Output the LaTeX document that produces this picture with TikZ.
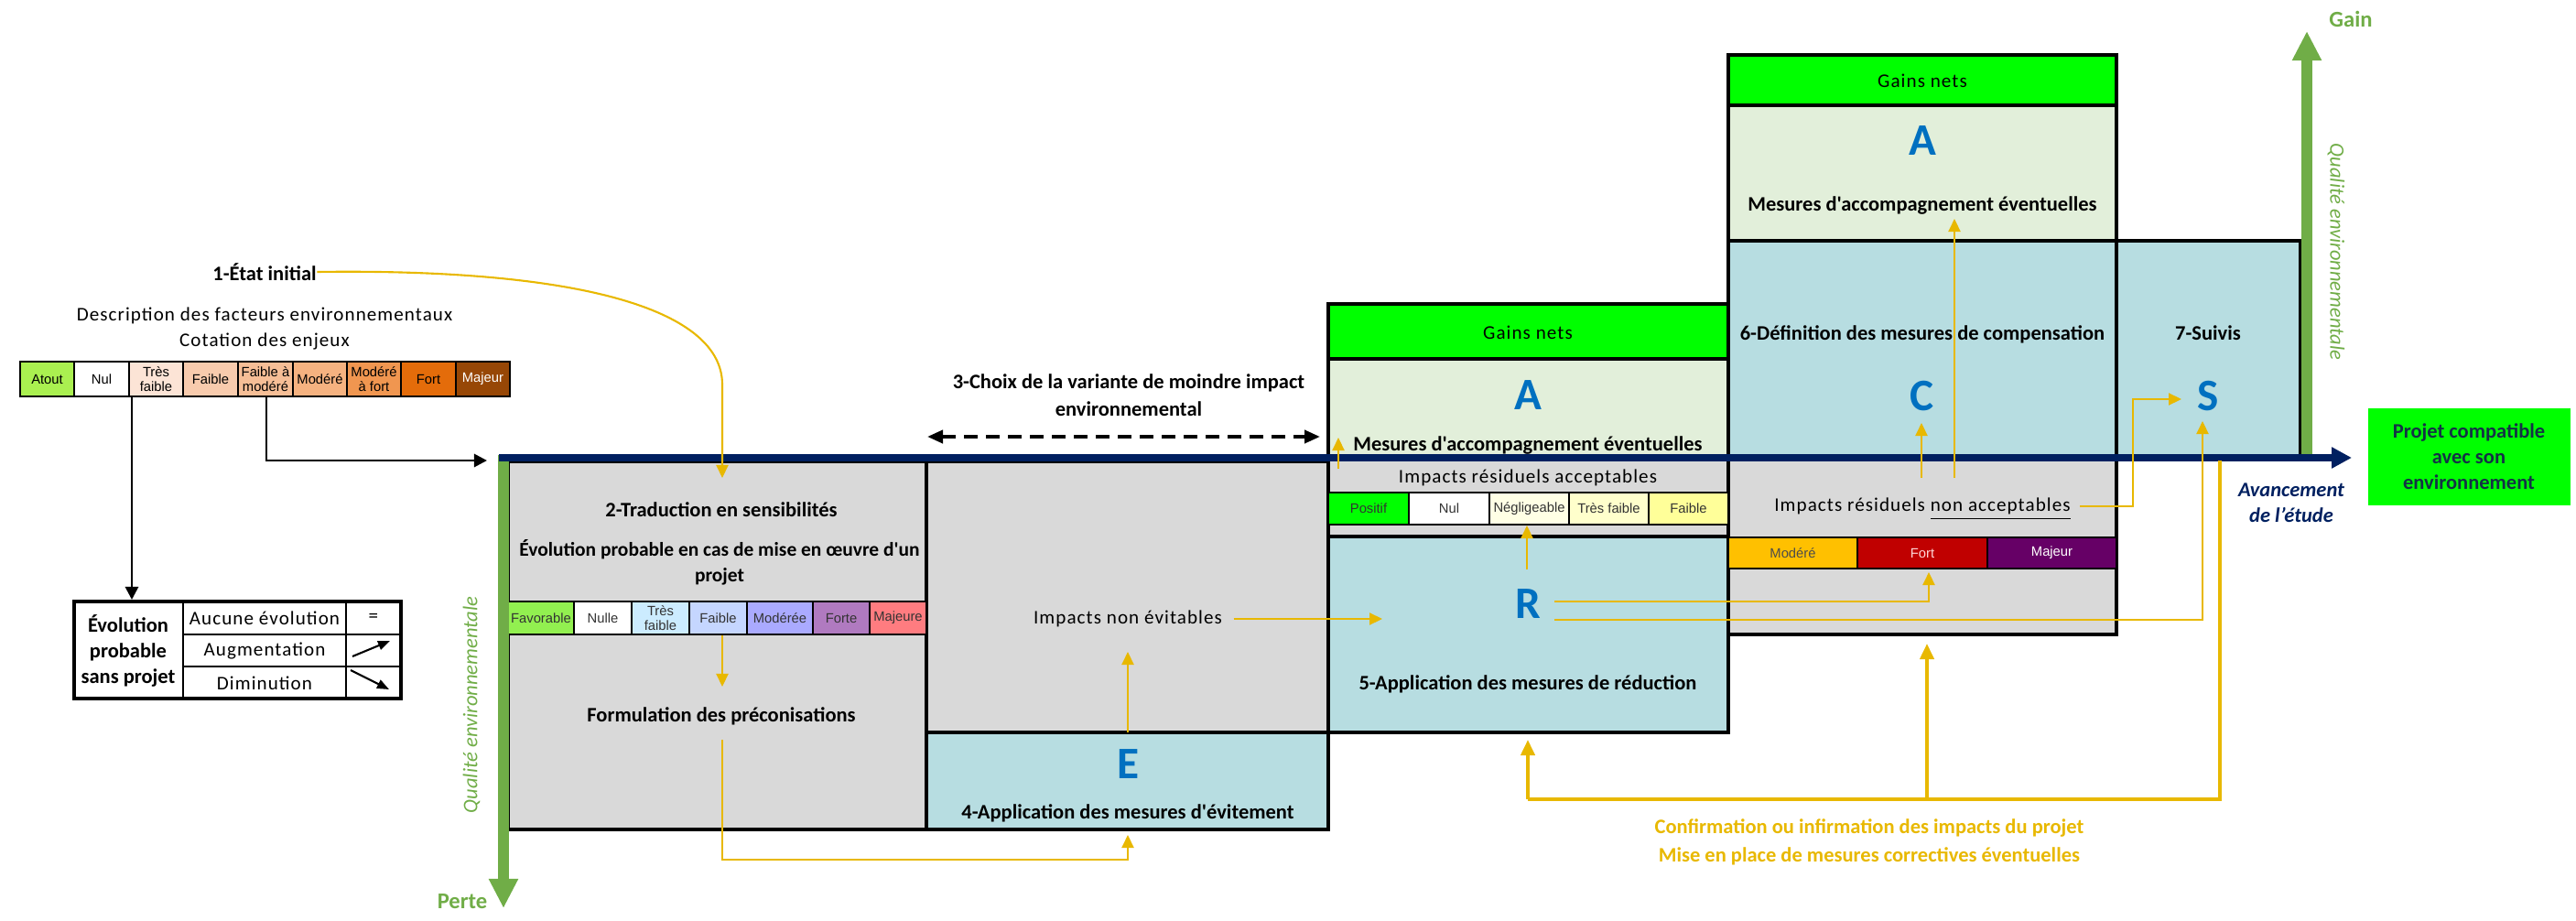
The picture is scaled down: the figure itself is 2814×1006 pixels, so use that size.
\documentclass[tikz,border=0pt]{standalone}
\usepackage{fontspec}
\setmainfont{Carlito}[Ligatures=TeXOff]
\newfontfamily\arialf{Liberation Sans}
\usetikzlibrary{arrows.meta}
\newcommand{\espace}{\addfontfeature{LetterSpace=5}}
\definecolor{gris}{RGB}{217,217,217}
\definecolor{turq}{RGB}{183,221,225}
\definecolor{vertpale}{RGB}{226,239,218}
\definecolor{vertflash}{RGB}{0,255,0}
\definecolor{marine}{RGB}{0,32,96}
\definecolor{vertaxe}{RGB}{112,173,71}
\definecolor{jaune}{RGB}{232,184,0}
\definecolor{bleulettre}{RGB}{0,112,192}
\definecolor{texteprojet}{RGB}{20,50,70}
\definecolor{atout}{RGB}{170,240,80}
\definecolor{tfa}{RGB}{252,228,214}
\definecolor{fai}{RGB}{248,203,173}
\definecolor{fam}{RGB}{246,190,150}
\definecolor{mod}{RGB}{245,178,128}
\definecolor{maf}{RGB}{240,150,80}
\definecolor{fort}{RGB}{228,108,10}
\definecolor{majeur}{RGB}{151,71,6}
\definecolor{favo}{RGB}{146,240,80}
\definecolor{tfb}{RGB}{204,236,255}
\definecolor{faib}{RGB}{197,214,255}
\definecolor{modb}{RGB}{170,170,255}
\definecolor{forb}{RGB}{176,122,192}
\definecolor{majb}{RGB}{255,124,128}
\definecolor{negl}{RGB}{255,255,229}
\definecolor{tfj}{RGB}{255,255,204}
\definecolor{faij}{RGB}{255,255,153}
\definecolor{modo}{RGB}{255,192,0}
\definecolor{forr}{RGB}{192,0,0}
\definecolor{majv}{RGB}{102,0,102}

\begin{document}
\begin{tikzpicture}[x=0.01cm,y=-0.01cm,
    boite/.style={draw=black,line width=1pt},
    ttl/.style={font=\fontsize{6.4}{8}\selectfont\bfseries,align=center,inner sep=0pt},
    txt/.style={font=\fontsize{6}{8}\selectfont\espace,align=center,inner sep=0pt},
    lettre/.style={font=\fontsize{14}{14}\selectfont\bfseries,text=bleulettre,inner sep=0pt},
    cellule/.style={draw=black,line width=0.7pt},
    etiq/.style={font=\arialf\fontsize{4.2}{4.7}\selectfont,align=center,inner sep=0pt},
    vert/.style={font=\fontsize{6.4}{8}\selectfont\itshape,text=vertaxe,inner sep=0pt},
    fj/.style={draw=jaune,line width=0.6pt,-{Triangle[length=0.14cm,width=0.13cm]}},
    fjg/.style={draw=jaune,line width=1.1pt,-{Triangle[length=0.17cm,width=0.15cm]}},
    fn/.style={draw=black,line width=0.8pt,-{Triangle[length=0.14cm,width=0.14cm]}}]
\useasboundingbox (0,0) rectangle (2814,1006);

% etat initial
\node[ttl] (etat) at (289,297) {1-État initial};
\node[txt] (descr) at (289,359) {Description des facteurs environnementaux\\Cotation des enjeux};
\foreach \xa/\xb/\lab/\col/\tc [count=\i] in {22/81/Atout/atout/black,81/141/Nul/white/black,
    141/200/{Très\\faible}/tfa/black,200/260/Faible/fai/black,260/320/{Faible à\\modéré}/fam/black,
    320/379/Modéré/mod/black,379/438/{Modéré\\à fort}/maf/black,438/498/Fort/fort/black,498/557/Majeur/majeur/white}
  {\draw[cellule,fill=\col] (\xa,395) rectangle (\xb,433);
   \node[etiq,text=\tc] (e\i) at ({(\xa+\xb)/2},414) {\lab};}
\draw[fn] (144,433) -- (144,655);
\draw[fn] (291,433) |- (532,503);

\draw[line width=1pt] (81,657) rectangle (438,763);
\draw[line width=0.8pt] (200,657) -- (200,763) (378,657) -- (378,763)
    (200,693) -- (438,693) (200,728) -- (438,728);
\node[ttl] (sansproj) at (140,711) {Évolution\\probable\\sans projet};
\node[txt] (aucune) at (289,675) {Aucune évolution};
\node[txt] (augm) at (289,711) {Augmentation};
\node[txt] (dimi) at (289,746) {Diminution};
\node[txt] (egal) at (408,675) {=};
\draw[line width=0.6pt,-{Triangle[length=0.13cm,width=0.1cm]}] (385,717) -- (426,700);
\draw[line width=0.6pt,-{Triangle[length=0.13cm,width=0.1cm]}] (383,732) -- (425,753);

% cases
\draw[boite,fill=gris] (555,504) rectangle (1012,906);
\draw[boite,fill=gris] (1012,504) rectangle (1451,800);
\draw[boite,fill=turq] (1012,800) rectangle (1451,906);
\draw[boite,fill=vertflash] (1451,332) rectangle (1888,392);
\draw[boite,fill=vertpale] (1451,392) rectangle (1888,500);
\draw[boite,fill=gris] (1451,500) rectangle (1888,586);
\draw[boite,fill=turq] (1451,586) rectangle (1888,800);
\draw[boite,fill=vertflash] (1888,60) rectangle (2312,115);
\draw[boite,fill=vertpale] (1888,115) rectangle (2312,263);
\draw[boite,fill=turq] (1888,263) rectangle (2312,500);
\draw[boite,fill=gris] (1888,500) rectangle (2312,693);
\draw[boite,fill=turq] (2312,263) rectangle (2513,500);

\foreach \xa/\xb/\lab/\col [count=\i] in {555/627/Favorable/favo,627/690/Nulle/white,
    690/753/{Très\\faible}/tfb,753/816/Faible/faib,816/888/Modérée/modb,888/950/Forte/forb,950/1012/Majeure/majb}
  {\draw[cellule,fill=\col] (\xa,657) rectangle (\xb,693);
   \node[etiq,text=black!80] (s\i) at ({(\xa+\xb)/2},675) {\lab};}
\foreach \xa/\xb/\lab/\col [count=\i] in {1451/1539/Positif/vertflash,1539/1627/Nul/white,
    1627/1714/Négligeable/negl,1714/1801/Très faible/tfj,1801/1888/Faible/faij}
  {\draw[cellule,fill=\col] (\xa,538) rectangle (\xb,573);
   \node[etiq,text=black!80] (r\i) at ({(\xa+\xb)/2},555.5) {\lab};}
\foreach \xa/\xb/\lab/\col/\tc [count=\i] in {1888/2029/Modéré/modo/black!70,
    2029/2171/Fort/forr/white!85!red,2171/2312/Majeur/majv/white}
  {\draw[cellule,fill=\col] (\xa,587) rectangle (\xb,621);
   \node[etiq,text=\tc] (n\i) at ({(\xa+\xb)/2},604) {\lab};}

% axes
\draw[vertaxe,line width=3.3pt,-{Triangle[length=0.32cm,width=0.3cm]}] (550,497) -- (550,992);
\draw[vertaxe,line width=3.6pt,-{Triangle[length=0.32cm,width=0.3cm]}] (2520,500) -- (2520,34);
\draw[marine,line width=2.4pt,-{Triangle[length=0.22cm,width=0.22cm]}] (545,500) -- (2569,500);
\node[ttl,font=\fontsize{7}{8}\selectfont\bfseries,text=vertaxe] (gain) at (2568,21) {Gain};
\node[ttl,font=\fontsize{7}{8}\selectfont\bfseries,text=vertaxe] (perte) at (505,985) {Perte};
\node[vert,rotate=-90] (qualg) at (2552,275) {Qualité environnementale};
\node[vert,rotate=90] (quald) at (515,770) {Qualité environnementale};
\node[ttl,font=\fontsize{6.4}{8}\selectfont\bfseries\itshape,text=marine] (avanc) at (2503,549) {Avancement\\de l’étude};
\fill[vertflash] (2587,446) rectangle (2808,552);
\node[ttl,text=texteprojet] (projet) at (2697,499) {Projet compatible\\avec son\\environnement};

% etape 2
\draw[fj] (etat.east) .. controls (640,293) and (789,340) .. (789,420) -- (789,522);
\node[ttl] (trad) at (788,557) {2-Traduction en sensibilités};
\node[ttl,font=\fontsize{6.1}{8}\selectfont\bfseries] (evolp) at (786,614) {Évolution probable en cas de mise en œuvre d'un\\projet};
\draw[fj] (789,694) -- (789,750);
\node[ttl] (formul) at (788,782) {Formulation des préconisations};
\draw[fj] (789,808) -- (789,939) -| (1232,912);

% etapes 3 et 4
\node[ttl,font=\fontsize{6.4}{8.5}\selectfont\bfseries] (choix) at (1233,432) {3-Choix de la variante de moindre impact\\environnemental};
\draw[line width=1.1pt,dash pattern=on 0.15cm off 0.09cm,
    {Triangle[length=0.17cm,width=0.14cm]}-{Triangle[length=0.17cm,width=0.14cm]}] (1013,477) -- (1442,477);
\node[txt] (nonevit) at (1232,676) {Impacts non évitables};
\draw[fj] (nonevit.east) ++(12,0) -- (1510,676);
\draw[fj] (1232,800) -- (1232,712);
\node[lettre] (E) at (1232,835) {E};
\node[ttl] (evit) at (1232,888) {4-Application des mesures d'évitement};

% etape 5
\node[txt] (gn5) at (1669,363) {Gains nets};
\node[lettre] (A5) at (1669,432) {A};
\node[ttl] (acc5) at (1669,487) {Mesures d'accompagnement éventuelles};
\draw[fj] (1462,512) -- (1462,478);
\node[txt] (accept) at (1669,522) {Impacts résiduels acceptables};
\node[lettre] (R) at (1669,660) {R};
\draw[fj] (1668,622) -- (1668,574);
\node[ttl] (redu) at (1669,747) {5-Application des mesures de réduction};
\draw[fj] (1698,657) -| (2107,625);
\draw[fj] (1698,677) -| (2406,460);

% etapes 6 et 7
\node[txt] (gn6) at (2100,88) {Gains nets};
\node[lettre] (A6) at (2100,154) {A};
\node[ttl] (acc6) at (2100,225) {Mesures d'accompagnement éventuelles};
\node[ttl] (compens) at (2100,365) {6-Définition des mesures de compensation};
\node[lettre] (C) at (2100,433) {C};
\node[txt] (nonacc) at (2100,556) {Impacts résiduels \underline{non acceptables}};
\draw[fj] (2099,522) -- (2099,462);
\draw[fj] (2135,522) -- (2135,239);
\draw[fj] (nonacc.east) ++(10,-3) -| (2330,436) -- (2383,436);
\node[ttl] (suivis) at (2412,364) {7-Suivis};
\node[lettre] (S) at (2412,433) {S};

% retour
\draw[jaune,line width=1.1pt] (2425,503) |- (1669,873);
\draw[fjg] (1669,873) -- (1669,808);
\draw[fjg] (2105,873) -- (2105,703);
\node[ttl,font=\fontsize{6.4}{8.8}\selectfont\bfseries,text=jaune] (confirm) at (2042,920) {Confirmation ou infirmation des impacts du projet\\Mise en place de mesures correctives éventuelles};
\end{tikzpicture}
\end{document}
